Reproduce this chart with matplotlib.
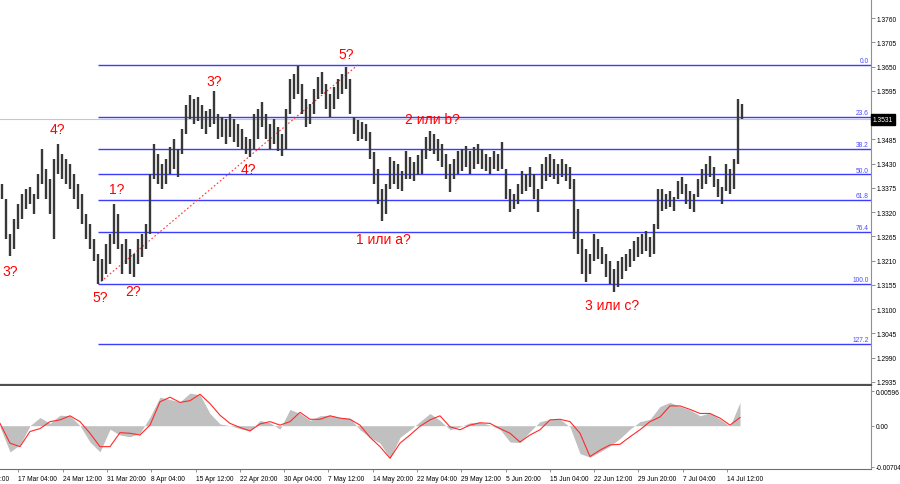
import matplotlib.pyplot as plt
import matplotlib.transforms as mtransforms
import numpy as np

plt.rcParams['font.family'] = ['Liberation Sans', 'DejaVu Sans']

# bar highs / lows in pips above 1.3000
bar_high = [384, 350, 270, 304, 338, 361, 372, 377, 361, 406,
            463, 418, 395, 440, 475, 452, 440, 429, 406, 384,
            361, 316, 293, 259, 225, 214, 248, 270, 338, 316,
            248, 259, 236, 225, 259, 270, 293, 406, 475, 452,
            429, 440, 467, 486, 463, 508, 563, 585, 576, 581,
            563, 549, 554, 594, 542, 535, 531, 542, 531, 520,
            508, 490, 486, 542, 554, 570, 542, 520, 531, 513,
            497, 554, 622, 633, 651, 610, 576, 565, 599, 626,
            637, 610, 588, 604, 622, 633, 649, 622, 535, 529,
            524, 520, 501, 456, 418, 372, 384, 445, 436, 429,
            413, 458, 445, 433, 449, 463, 490, 504, 497, 486,
            474, 452, 429, 440, 458, 463, 470, 458, 467, 474,
            463, 452, 445, 458, 452, 479, 418, 372, 361, 384,
            413, 406, 422, 406, 372, 429, 445, 452, 440, 429,
            440, 429, 422, 395, 327, 259, 236, 225, 270, 259,
            241, 225, 209, 191, 209, 218, 225, 236, 254, 263,
            270, 277, 263, 293, 372, 372, 361, 368, 354, 390,
            399, 384, 368, 361, 395, 418, 429, 447, 422, 395,
            377, 429, 418, 440, 576, 565]
bar_low = [350, 259, 220, 236, 282, 304, 327, 338, 316, 350,
           384, 350, 316, 259, 406, 395, 384, 372, 350, 327,
           293, 259, 236, 209, 157, 164, 180, 202, 248, 236,
           180, 202, 180, 173, 202, 218, 236, 270, 395, 384,
           372, 384, 406, 418, 400, 452, 497, 531, 520, 526,
           508, 497, 513, 520, 486, 490, 474, 490, 479, 467,
           463, 452, 445, 463, 486, 513, 486, 463, 474, 458,
           447, 463, 542, 576, 588, 542, 513, 520, 542, 576,
           588, 554, 536, 554, 576, 588, 599, 542, 497, 481,
           486, 481, 440, 384, 338, 300, 316, 372, 384, 372,
           368, 395, 395, 390, 404, 406, 440, 458, 452, 436,
           422, 395, 366, 395, 406, 413, 422, 406, 418, 429,
           418, 413, 406, 418, 413, 418, 350, 320, 327, 338,
           361, 368, 377, 350, 320, 372, 390, 400, 395, 384,
           400, 390, 372, 259, 225, 180, 162, 180, 209, 214,
           202, 173, 157, 139, 150, 168, 186, 196, 209, 218,
           225, 232, 218, 225, 282, 322, 327, 332, 322, 350,
           361, 338, 327, 320, 354, 372, 384, 400, 377, 354,
           338, 368, 361, 372, 429, 531]
last_price = 1.3531

# fibonacci retracement (from wave 5? low to the high)
fib_low, fib_high = 1.3157, 1.3654
fib_start, fib_end = 24, 89
fib_ratios = [0.0, 23.6, 38.2, 50.0, 61.8, 76.4, 100.0, 127.2]

# oscillator (x1e-4), one value every 2.5 bars
macd_hist = [-2, -45, -33, 0, 14, 4, 18, 17, 0, -28,
             -45, -6, -16, -19, -13, 15, 49, 45, 41, 56,
             53, 21, 3, 0, -5, -9, 9, 5, -6, 28,
             21, 9, 17, 18, 14, 13, -7, -20, -30, -56,
             -20, -7, 7, 21, 9, -7, -2, 5, 6, 1,
             -6, -28, -29, -10, 7, 11, 11, -2, -48, -54,
             -45, -35, -22, -6, 7, 11, 33, 40, 33, 27,
             17, 22, 11, -1, 40]
macd_signal = [4, -30, -36, -10, -5, 7, 10, 17, 7, -13,
               -36, -36, -12, -13, -16, 1, 41, 49, 40, 43,
               54, 38, 18, 4, -3, -9, 3, 7, 1, 7,
               23, 11, 11, 17, 13, 11, 1, -20, -36, -56,
               -30, -16, -1, 10, 17, -2, -7, 1, 5, 4,
               -5, -13, -28, -16, -7, 10, 11, 7, -13, -53,
               -42, -33, -32, -19, -7, 7, 15, 34, 34, 28,
               21, 21, 13, 1, 14]

date_labels = ['9 Mar 20:00', '17 Mar 04:00', '24 Mar 12:00', '31 Mar 20:00',
               '8 Apr 04:00', '15 Apr 12:00', '22 Apr 20:00', '30 Apr 04:00',
               '7 May 12:00', '14 May 20:00', '22 May 04:00', '29 May 12:00',
               '5 Jun 20:00', '15 Jun 04:00', '22 Jun 12:00', '29 Jun 20:00',
               '7 Jul 04:00', '14 Jul 12:00']

# wave marks: (bar, pips above 1.3, text)
wave_labels = [(2, 187, '3?'), (13.75, 508, '4?'), (24.5, 128, '5?'),
               (28.75, 372, '1?'), (32.75, 141, '2?'), (53, 617, '3?'),
               (61.5, 418, '4?'), (86, 678, '5?'), (107.5, 531, '2 или b?'),
               (95.25, 259, '1 или a?'), (152.5, 110, '3 или c?')]

hi = 1.3 + np.array(bar_high) / 10000
lo = 1.3 + np.array(bar_low) / 10000
idx = np.arange(len(hi))
x_right = 217.25

fig = plt.figure(figsize=(9, 4.85), dpi=100)
ax = fig.add_axes((0, 1 - 386 / 485, 871 / 900, 386 / 485))
osc = fig.add_axes((0, 1 - 470 / 485, 871 / 900, 83 / 485))

ax.axhline(last_price, color='#c8c8c8', lw=0.8, zorder=1)

fib_levels = [fib_high - (fib_high - fib_low) * r / 100 for r in fib_ratios]
ax.hlines(fib_levels, fib_start, x_right, color='#3c3cff', lw=1, zorder=2)
for r, lvl in zip(fib_ratios, fib_levels):
    ax.text(216.7, lvl + 0.0002, f'{r:.1f}', ha='right', va='bottom',
            fontsize=4.8, color='#4a4aff', zorder=3)
ax.plot([fib_start, fib_end], [fib_low, fib_high], color='#ff3030',
        lw=0.8, ls=(0, (1.5, 2)), zorder=2)

ax.vlines(idx, lo, hi, color='#383838', lw=1.7, zorder=4)

for bx, pp, txt in wave_labels:
    ax.text(bx, 1.3 + pp / 10000, txt, ha='center', va='center',
            fontsize=10, color='#ff0000', zorder=5)

yt = np.round(np.arange(1.2935, 1.37605, 0.0055), 4)
ax.yaxis.tick_right()
ax.set_yticks(yt)
ax.set_yticklabels([f'{v:.4f}' for v in yt])
ax.tick_params(axis='y', labelsize=4.8, length=3, width=0.6, color='#808080', pad=1.2)
ax.set_xticks([])
ax.set_xlim(-0.5, x_right)
ax.set_ylim(1.29282, 1.38031)
for s in ['top', 'left']:
    ax.spines[s].set_visible(False)
ax.spines['right'].set_color('#909090')
ax.spines['bottom'].set_color('#505050')
ax.spines['bottom'].set_linewidth(1.6)

trans = mtransforms.blended_transform_factory(ax.transAxes, ax.transData)
ax.text(1.002, last_price, f'{last_price:.4f}', transform=trans, fontsize=4.8,
        color='white', ha='left', va='center', clip_on=False, zorder=6,
        bbox=dict(boxstyle='square,pad=0.3', fc='black', ec='black'))

# oscillator
ox = (np.arange(len(macd_hist)) * 10 - 2) / 4
mh = np.array(macd_hist) / 10000
ms = np.array(macd_signal) / 10000
osc.fill_between(ox, mh, 0, color='#c0c0c0', lw=0)
osc.plot(ox, ms, color='#ff2a2a', lw=0.8)
osc.yaxis.tick_right()
osc.set_yticks([-0.00704, 0.0, 0.00596])
osc.set_yticklabels(['-0.00704', '0.00', '0.00596'])
osc.tick_params(axis='y', labelsize=4.8, length=2.5, width=0.6, color='#808080', pad=0.8)

tick_pos = (18.3 + 44.3 * (np.arange(len(date_labels)) - 1) - 2) / 4
osc.set_xticks(tick_pos[1:])
osc.set_xticklabels(date_labels[1:])
osc.tick_params(axis='x', labelsize=4.8, length=2.5, width=0.6, color='#808080', pad=2)
for lab in osc.get_xticklabels():
    lab.set_ha('left')
osc.set_xlim(-0.5, x_right)
osc.set_ylim(-0.00744, 0.00682)
# first date label sits left of the canvas, only its tail shows
osc.text(tick_pos[0], -0.00744, date_labels[0], ha='left', va='top',
         fontsize=4.8, clip_on=False,
         transform=osc.transData + mtransforms.ScaledTranslation(0, -4.5 / 72, fig.dpi_scale_trans))
for s in ['top', 'left']:
    osc.spines[s].set_visible(False)
osc.spines['right'].set_color('#909090')
osc.spines['bottom'].set_color('#707070')

fig.savefig('out.png', dpi=100)
